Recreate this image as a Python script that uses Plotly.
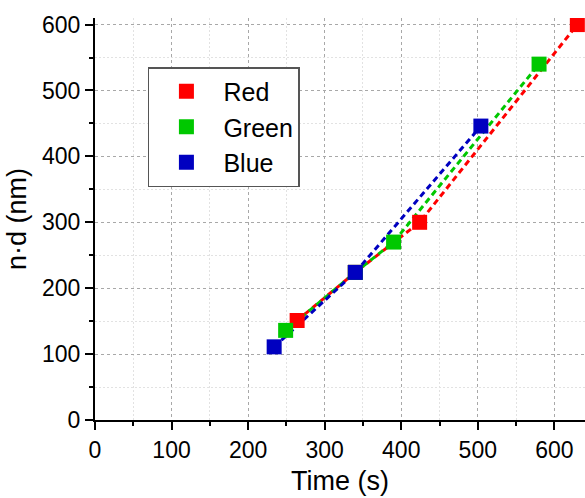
import plotly.graph_objects as go

series_names = ["Red", "Green", "Blue"]
red_x = [264, 340, 424, 630]
red_y = [151, 224, 300, 600]
green_x = [249, 340, 390, 580]
green_y = [136, 224, 270, 540]
blue_x = [234, 340, 504]
blue_y = [111, 224, 446]
colors = ["#FF0000", "#00C800", "#0000C0"]

data = [(red_x, red_y), (green_x, green_y), (blue_x, blue_y)]

fig = go.Figure()
for (xs, ys), c in zip(data, colors):
    fig.add_trace(go.Scatter(x=xs, y=ys, mode="lines", showlegend=False,
                             line=dict(color=c, width=3, dash="6px,4px")))
for name, (xs, ys), c in zip(series_names, data, colors):
    fig.add_trace(go.Scatter(x=xs, y=ys, mode="markers", name=name,
                             marker=dict(symbol="square", size=15, color=c,
                                         line=dict(width=0))))

font_family = "Liberation Sans, Arial, sans-serif"
axis_common = dict(
    showline=True, linecolor="black", linewidth=2, mirror=False,
    ticks="outside", ticklen=8, tickwidth=2, tickcolor="black",
    showgrid=True, gridcolor="#A8A8A8", gridwidth=1, griddash="3px,3px",
    zeroline=False,
    tickfont=dict(family=font_family, size=23, color="black"),
    minor=dict(dtick=50, ticks="outside", ticklen=4, tickwidth=2, tickcolor="black",
               showgrid=True, gridcolor="#E2E2E2", gridwidth=1, griddash="2px,2px"),
)

fig.update_layout(
    width=585, height=498,
    margin=dict(l=95, r=0, t=18, b=78),
    paper_bgcolor="white", plot_bgcolor="white",
    font=dict(family=font_family, color="black"),
    xaxis=dict(range=[0, 640], dtick=100, tick0=0,
               title=dict(text="Time (s)", font=dict(size=27), standoff=10),
               **axis_common),
    yaxis=dict(range=[0, 610], dtick=100, tick0=0,
               title=dict(text="n·d (nm)", font=dict(size=27), standoff=8),
               **axis_common),
    legend=dict(x=0.108, y=0.878, xanchor="left", yanchor="top",
                bgcolor="white", bordercolor="#555555", borderwidth=1.5,
                font=dict(size=25, family=font_family),
                tracegroupgap=0, itemwidth=64),
)

fig.write_html("out.html")
